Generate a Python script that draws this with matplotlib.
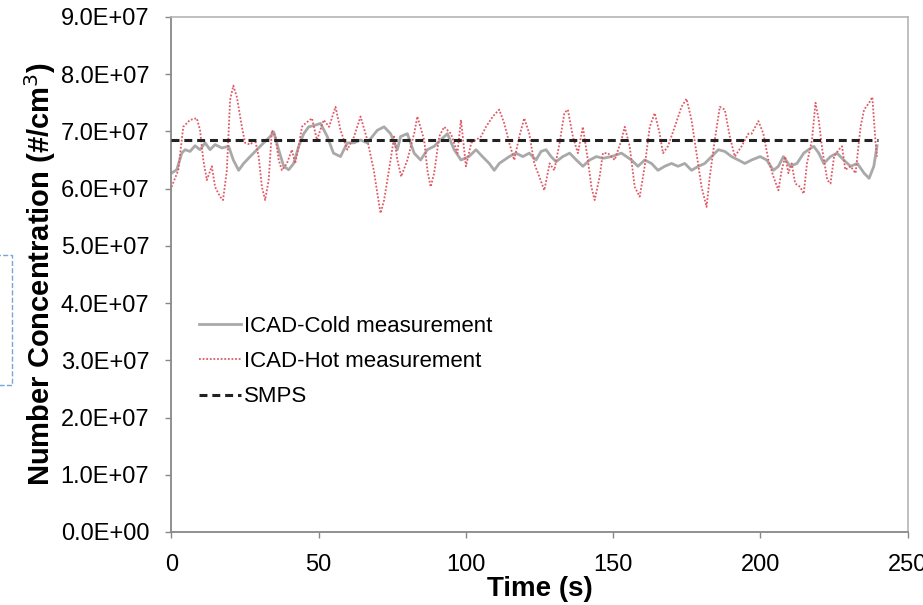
import matplotlib
matplotlib.use("Agg")
import matplotlib.pyplot as plt
from matplotlib.ticker import FuncFormatter, MultipleLocator
from matplotlib.patches import Rectangle
import numpy as np

plt.rcParams['font.family'] = ['Liberation Sans', 'DejaVu Sans']

# 数据（单位 1e7 #/cm3）
cold_t = [0, 1.8, 3.5, 4.6, 6.3, 8, 9.7, 11.4, 13.1, 14.8, 17.1, 19.4, 21, 22.8, 24.5,
          26.7, 29, 31.3, 33.5, 34.7, 36.4, 38.1, 39.8, 41.5, 43.2, 44.9, 46.6, 48.9,
          50.6, 52.9, 55, 57.4, 59.7, 62, 64.2, 66.5, 69.9, 72.2, 74.4, 76.7, 77.8, 80.1,
          82.4, 84.6, 86.9, 89.2, 91.4, 93.7, 96, 98.3,
          101, 103.4, 105.6, 107.9, 109.6, 111.3, 113, 114.7, 117, 119.3, 121.5, 123.8,
          125.5, 127.2, 128.9, 130.6, 132.9, 135.2, 137.5, 139.7, 142, 144.3, 146.5,
          149.4, 152.8, 156.2, 158.4, 160.7, 163, 165.2, 167.5, 169.8, 172, 174.3, 176.6,
          178.9, 181.1, 183.4, 185.7, 187.9, 190.2, 192.5, 194.7, 197,
          199.9, 202.1, 204.4, 206.1, 207.8, 210.1, 212.4, 214.7, 216.3, 218.1, 219.8,
          221.5, 223.8, 226, 228.3, 230.6, 232.9, 235.2, 236.9, 238.5, 239.6]
cold_v = [6.27, 6.33, 6.62, 6.68, 6.65, 6.75, 6.68, 6.8, 6.68, 6.77, 6.71, 6.74, 6.5, 6.32, 6.44,
          6.56, 6.68, 6.8, 6.91, 6.99, 6.68, 6.39, 6.33, 6.44, 6.74, 6.96, 7.08, 7.11,
          7.14, 6.91, 6.62, 6.56, 6.8, 6.8, 6.85, 6.8, 7.02, 7.08, 6.96, 6.68, 6.91, 6.96,
          6.62, 6.5, 6.68, 6.74, 6.85, 6.96, 6.68, 6.5,
          6.56, 6.68, 6.56, 6.44, 6.32, 6.44, 6.5, 6.56, 6.62, 6.56, 6.62, 6.5,
          6.65, 6.68, 6.56, 6.47, 6.56, 6.62, 6.5, 6.39, 6.5, 6.56, 6.53,
          6.56, 6.62, 6.5, 6.39, 6.5, 6.44, 6.32, 6.39, 6.44, 6.39, 6.44, 6.32,
          6.39, 6.44, 6.56, 6.68, 6.65, 6.56, 6.5, 6.44, 6.5,
          6.56, 6.5, 6.32, 6.39, 6.56, 6.39, 6.44, 6.62, 6.68, 6.74, 6.62,
          6.44, 6.56, 6.62, 6.5, 6.39, 6.44, 6.27, 6.18, 6.39, 6.75]

hot_t = [0, 2.3, 4, 6.3, 8.6, 9.7, 10.8, 12, 13.7, 14.8, 16.5, 17.5, 18.8, 19.9, 21, 22.2,
         23.9, 25, 26.7, 28.4, 29.6, 30.7, 31.8, 33, 34.1, 35.3, 36.4, 37.5, 39.2, 40.9,
         42, 43.2, 44.3, 45.5, 47.7,
         49.4, 51.7, 53.5, 55.7, 57.4, 59.7, 62, 64.2, 66.5, 68.7, 69.9, 71, 72.2, 74.4,
         75.6, 76.7, 78, 80.1, 82.4, 83.5, 85.8, 86.9, 88, 89.2, 90.9, 92.6, 94.9, 97.1, 98.3,
         100, 101.8, 103.4, 105.1, 106.8, 109.1, 111.3, 113, 114.7, 116.4, 118.1, 119.8,
         121.5, 123.2, 124.9, 126.6, 128.4, 130, 131.8, 133.4, 134.6, 136.3, 138, 139.7,
         141.4, 142.6, 143.7, 145.4, 146.5,
         148.2, 150.5, 152.8, 153.9, 155.6, 157.3, 159, 160.7, 162.4, 164.1, 165.8, 166.9,
         168.6, 170.9, 173.2, 174.9, 176.6, 178.3, 180, 181.7, 182.8, 184.5, 186.2, 187.9,
         189.6, 191.3, 193.6, 195.9,
         197, 199.3, 201, 202.7, 204.4, 206.1, 207.2, 208.4, 209.5, 210.6, 211.8, 213.5,
         214.7, 215.8, 217.5, 218.7, 219.8, 221, 222.7, 223.8, 225, 226.6, 227.7, 228.8,
         230.6, 232.3, 234, 235.2, 236.9, 238, 239.1, 239.6]
hot_v = [6.03, 6.32, 7.08, 7.2, 7.23, 7.02, 6.5, 6.15, 6.39, 6.03, 5.86, 5.8, 6.32, 7.55, 7.8, 7.6,
         7.08, 6.8, 6.77, 6.85, 6.56, 6.03, 5.8, 6.15, 7.02, 6.91, 6.5, 6.32, 6.44, 6.68,
         6.44, 6.74, 7.08, 7.14, 7.23,
         6.85, 7.2, 7.08, 7.43, 7.02, 6.68, 6.91, 7.26, 6.85, 6.32, 5.92, 5.57, 5.8, 6.5,
         6.91, 6.5, 6.21, 6.5, 6.96, 7.26, 6.85, 6.32, 6.03, 6.27, 6.91, 7.08, 6.96, 6.62, 7.2,
         6.39, 6.8, 6.85, 6.91, 7.08, 7.26, 7.38, 7.14, 6.8, 6.5, 6.91, 7.23,
         6.96, 6.44, 6.21, 5.97, 6.44, 6.32, 6.8, 7.32, 7.38, 6.91, 6.62, 7.08,
         6.5, 6.03, 5.8, 6.21, 6.62,
         6.62, 6.5, 6.85, 7.08, 6.74, 6.03, 5.86, 6.39, 7.08, 7.32, 6.96, 6.62,
         6.74, 7.08, 7.43, 7.57, 7.2, 6.62, 6.03, 5.68, 6.21, 6.85, 7.43, 7.38,
         6.91, 6.56, 6.74, 6.96,
         6.96, 7.18, 6.96, 6.5, 6.21, 5.97, 6.32, 6.56, 6.27, 6.44, 6.09, 6.03,
         5.91, 6.44, 6.85, 7.5, 7.2, 6.68, 6.15, 6.09, 6.56, 6.68, 6.74, 6.33,
         6.39, 6.27, 7.08, 7.38, 7.5, 7.6, 6.8, 6.56]

smps_t = [0, 240]
smps_v = [6.85, 6.85]

fig = plt.figure(figsize=(9.23, 6.05), dpi=100)
ax = fig.add_axes([0.1858, 0.1207, 0.7976, 0.8513])

ax.plot(cold_t, np.array(cold_v) * 1e7, color='#a9a9a9', lw=2.0, label='ICAD-Cold measurement', zorder=2)
ax.plot(hot_t, np.array(hot_v) * 1e7, color='#e05a66', lw=1.3, ls=(0, (1, 1)),
        label='ICAD-Hot measurement', zorder=3)
ax.plot(smps_t, np.array(smps_v) * 1e7, color='#222222', lw=2.2, ls=(0, (2.6, 1.6)),
        label='SMPS', zorder=4)

ax.set_xlim(0, 250)
ax.set_ylim(0, 9e7)
ax.xaxis.set_major_locator(MultipleLocator(50))
ax.yaxis.set_major_locator(MultipleLocator(1e7))
ax.yaxis.set_major_formatter(FuncFormatter(lambda v, p: f"{v:.1E}"))
ax.tick_params(direction='out', length=4, width=1, color='#888888', labelsize=17, pad=12)

for side in ['left', 'bottom']:
    ax.spines[side].set_color('#888888')
    ax.spines[side].set_linewidth(1.3)
for side in ['top', 'right']:
    ax.spines[side].set_color('#b5b5b5')
    ax.spines[side].set_linewidth(1.2)

ax.set_xlabel('Time (s)', fontsize=20, fontweight='bold', labelpad=0)
ax.set_ylabel('Number Concentration (#/cm$^3$)', fontsize=21, fontweight='bold', labelpad=2)

ax.legend(loc='center left', bbox_to_anchor=(0.037, 0.331), frameon=False, fontsize=16,
          handlelength=1.9, handletextpad=0.15, labelspacing=0.65, borderpad=0, borderaxespad=0)

# 左侧蓝色虚线框（原图残留）
fig.patches.append(Rectangle((-10 / 923, 1 - 385 / 605), 22 / 923, 130 / 605,
                             transform=fig.transFigure, fill=False, ls='--', lw=1,
                             edgecolor='#7aa6d6'))

plt.savefig('out.png', dpi=100)
